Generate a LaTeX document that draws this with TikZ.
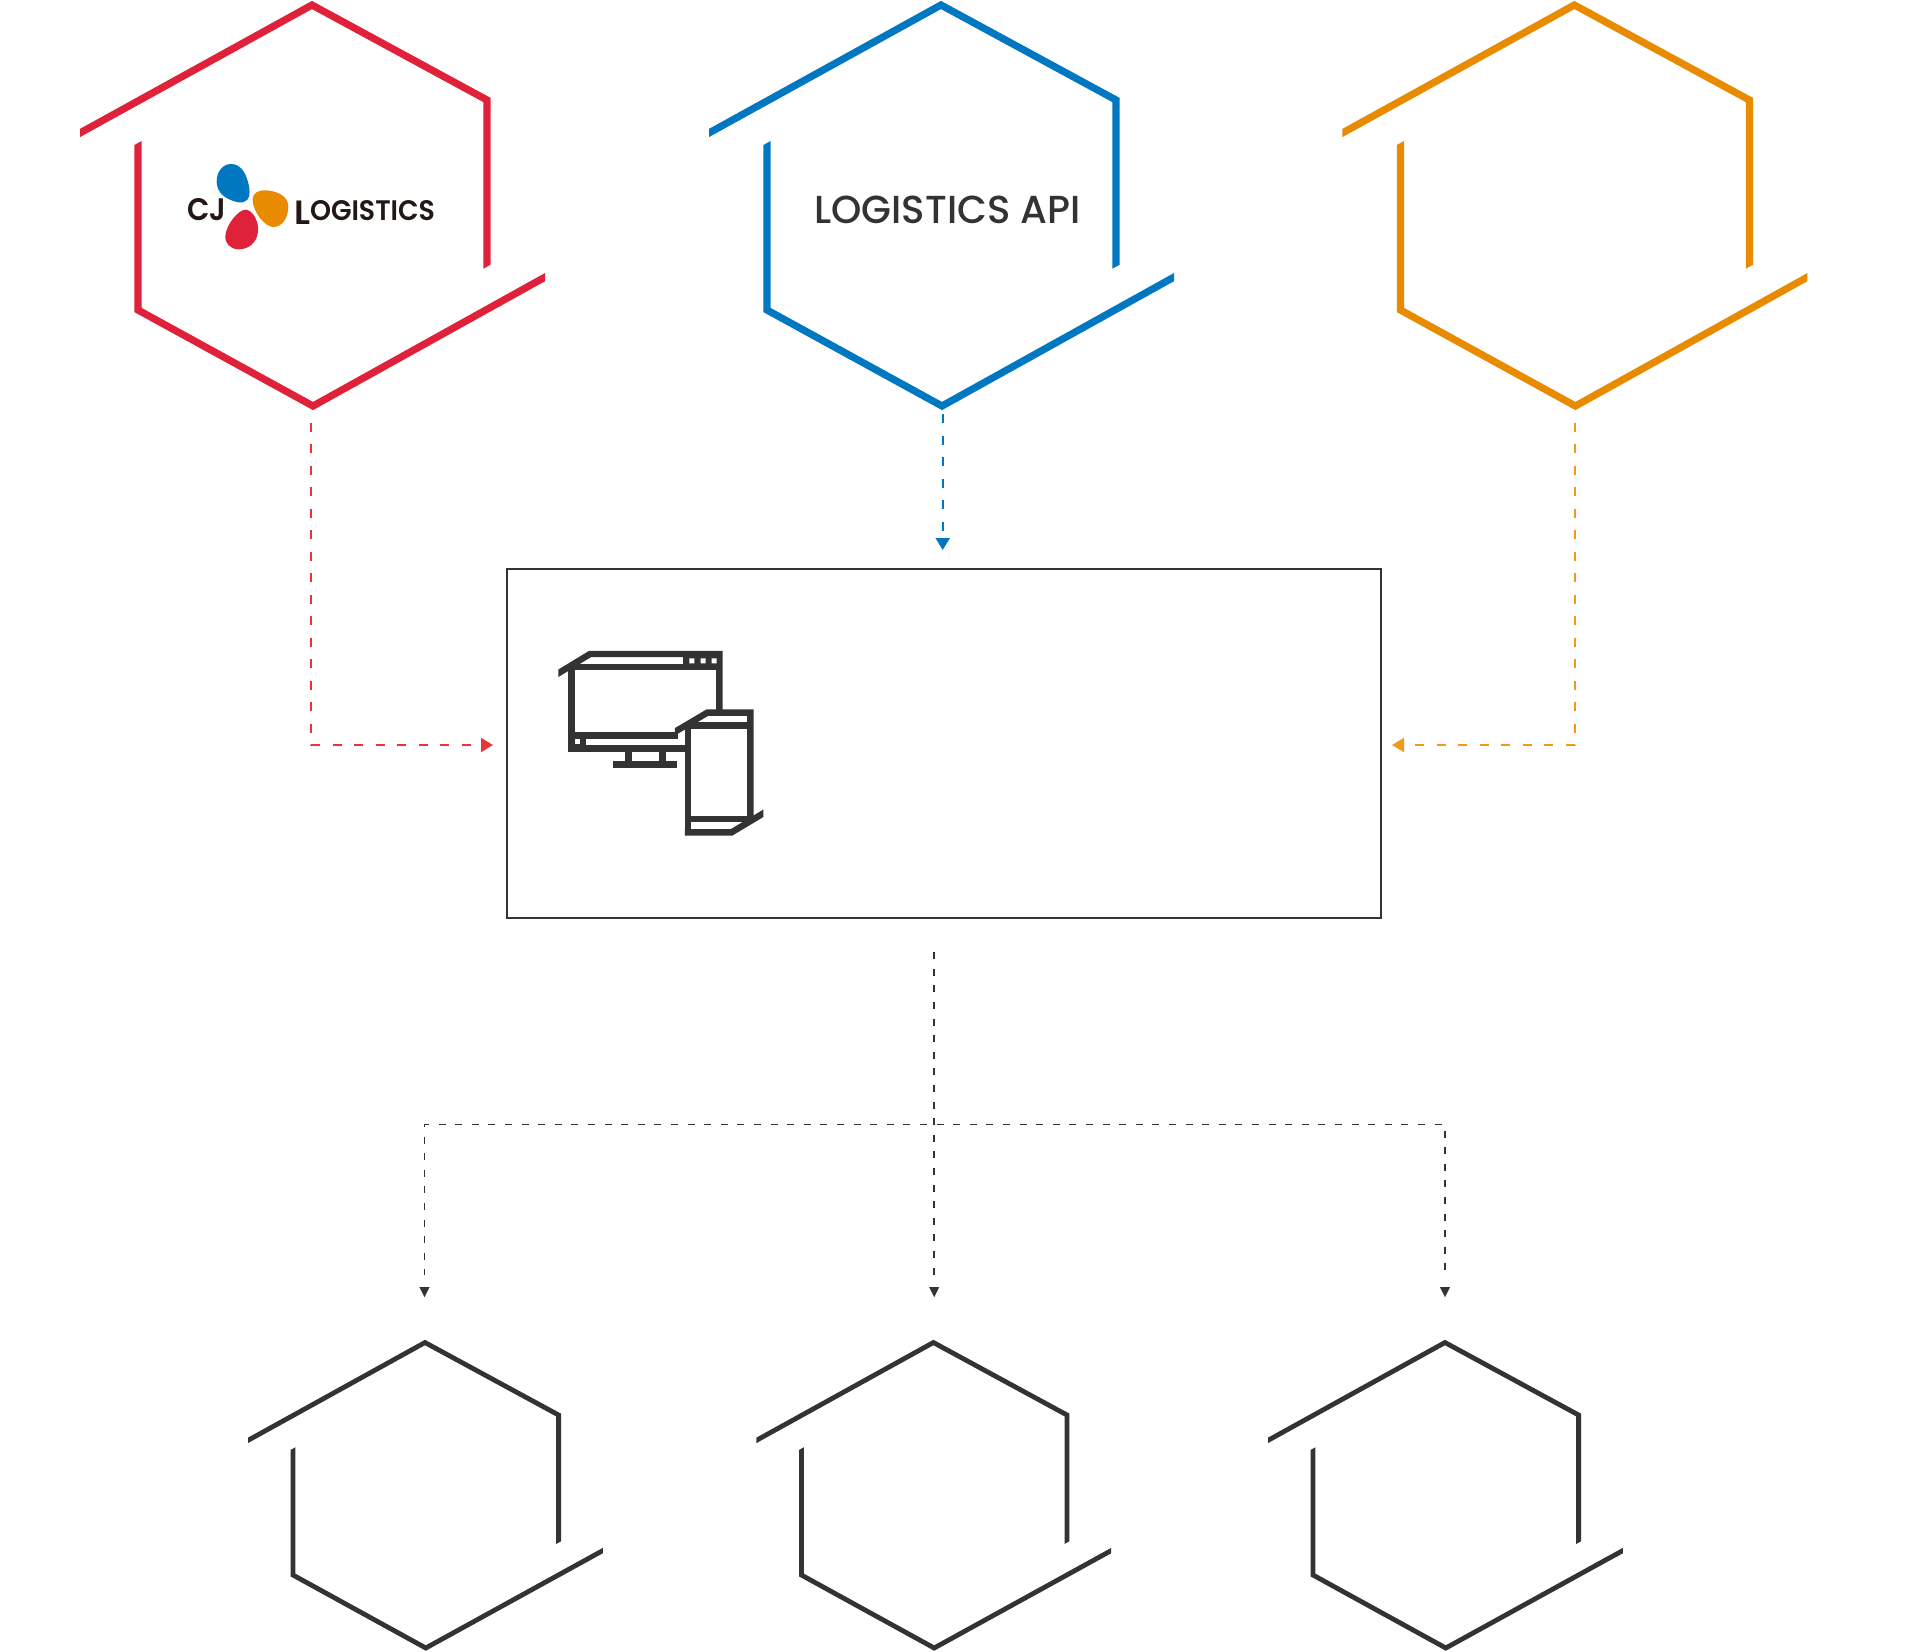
\documentclass[tikz,border=0pt]{standalone}
\usepackage{fontspec}
\usepackage{graphicx}
\usetikzlibrary{arrows.meta}
\setmainfont{Poppins}
\newfontfamily\popmed{Poppins Medium}
\newfontfamily\popsemi{Poppins SemiBold}
\definecolor{hexred}{HTML}{E0213A}
\definecolor{hexblue}{HTML}{0078C1}
\definecolor{hexorange}{HTML}{E98B00}
\definecolor{dark}{HTML}{333333}
\definecolor{linered}{HTML}{E93535}
\definecolor{lineorange}{HTML}{F09A1A}
\definecolor{logoink}{HTML}{231815}
\tikzset{
  hexline/.style={line width=7.2pt,miter limit=10,line join=miter},
  hexthin/.style={line width=4.8pt,miter limit=10,line join=miter},
  flow/.style={line width=2pt,dash pattern=on 9pt off 12.5pt,-{Triangle[length=12pt,width=14pt]}},
  flowthin/.style={line width=1.9pt,dash pattern=on 7pt off 9.6pt,draw=dark},
  flowtip/.style={line width=.1pt,draw=dark,-{Triangle[length=10pt,width=10pt]}},
  icon/.style={line width=6.4pt,draw=dark},
  lbl/.style={anchor=base west,inner sep=0pt,outer sep=0pt}
}
\newcommand\tophex[2]{%
\begin{scope}[xshift=#2pt]
 \begin{scope}
  \clip (80,-50)--(700,-50)--(700,266.7-213*.55)--(80,266.7+407*.55)--cycle;
  \draw[hexline,draw=#1] (60,144)--(312,5)--(487,100)--(487,300);
 \end{scope}
 \begin{scope}
  \clip (545,-80.8)--(545,500)--(0,500)--(0,143+138*.55)--cycle;
  \draw[hexline,draw=#1] (138,100)--(138,310)--(313,406)--(565,266);
 \end{scope}
\end{scope}}
\newcommand\bothex[1]{%
\begin{scope}[xshift=#1pt]
 \begin{scope}
  \clip (248,1300)--(800,1300)--(800,1542.6-241.4*.55)--(248,1542.6+310.6*.55)--cycle;
  \draw[hexthin,draw=dark] (228,1451.4)--(425,1342.5)--(558.6,1415)--(558.6,1570);
 \end{scope}
 \begin{scope}
  \clip (602.8,1278.2)--(602.8,1700)--(100,1700)--(100,1448.6+193*.55)--cycle;
  \draw[hexthin,draw=dark] (293,1420)--(293,1575)--(425.8,1648)--(622,1540);
 \end{scope}
\end{scope}}
\begin{document}
\begin{tikzpicture}[x=1pt,y=-1pt]
\useasboundingbox (0,0) rectangle (1920,1652);
\fill[white] (0,0) rectangle (1920,1652);
% hexagons
\tophex{hexred}{0}
\tophex{hexblue}{629}
\tophex{hexorange}{1262.4}
\bothex{0}
\bothex{508.4}
\bothex{1020}
% logo
\begin{scope}[shift={(170,150)},x=.3333pt,y=-.3333pt]
 \fill[hexblue] (183,42) .. controls (215,42) and (232,75) .. (238,115) .. controls (242,148) and (228,160) .. (205,157) .. controls (170,150) and (140,130) .. (140,95) .. controls (140,65) and (158,42) .. (183,42) -- cycle;
 \fill[hexorange] (248,150) .. controls (248,128) and (265,120) .. (290,121) .. controls (325,124) and (355,140) .. (355,170) .. controls (355,205) and (335,231) .. (310,231) .. controls (285,231) and (248,185) .. (248,150) -- cycle;
 \fill[hexred] (228,179) .. controls (250,182) and (267,215) .. (264,245) .. controls (261,278) and (235,299) .. (205,298) .. controls (180,297) and (165,280) .. (166,258) .. controls (168,225) and (205,178) .. (228,179) -- cycle;
\end{scope}
\node[lbl,text=logoink,font=\popsemi\fontsize{24}{24}\selectfont] (logoCJ) at (187.5,220) {\resizebox{39pt}{22pt}{CJ}};
\node[lbl,text=logoink,font=\popsemi\fontsize{32}{32}\selectfont] (logoL) at (294.5,224) {\resizebox{16pt}{23.5pt}{L}};
\node[lbl,text=logoink,font=\popsemi\fontsize{24}{24}\selectfont] (logoOG) at (310,220.5) {\resizebox{125pt}{20pt}{OGISTICS}};
\node[lbl,text=dark,font=\popmed\fontsize{38}{38}\selectfont] (apiText) at (814.5,223.3) {\resizebox{266pt}{27.5pt}{LOGISTICS API}};
% central box
\node[draw=dark,line width=2pt,fill=white,minimum width=874pt,minimum height=349pt,inner sep=0pt,anchor=north west] (core) at (506,567.5) {};
% icon
\begin{scope}[shift={(545,640)},x=.3333pt,y=-.3333pt]
 \begin{scope}
  \clip (40,0) rectangle (700,600);
  \draw[icon,line join=miter] (20,112)--(135,42)--(523,42)--(523,215);
  \draw[icon] (80,81)--(523,81);
  \draw[icon] (80,78)--(80,326)--(420,326);
  \draw[icon] (80,287)--(400,287);
 \end{scope}
 \fill[dark] (415,45) rectangle (520,78);
 \fill[white] (433,55) rectangle (448,70) (467,55) rectangle (482,70) (500,55) rectangle (515,70);
 \fill[dark] (85,290) rectangle (122,322);
 \fill[white] (90,298) rectangle (105,312);
 \draw[icon] (251,326)--(251,374);
 \draw[icon] (352,326)--(352,374);
 \draw[icon] (205,374)--(397,374);
 \begin{scope}
  \clip (390,200) rectangle (655,600);
  \draw[icon,line join=miter] (370,287)--(487,218)--(616,218)--(616,537);
  \draw[icon] (429,257)--(429,586);
  \draw[icon] (420,257)--(616,257);
  \draw[icon] (429,537)--(616,537);
  \draw[icon,line join=miter] (420,577)--(560,577)--(675,508);
 \end{scope}
\end{scope}
% connectors
\coordinate (hr) at (311,422.5);
\coordinate (hb) at (942.7,414);
\coordinate (ho) at (1574.7,422.5);
\coordinate (tr) at (493,745);
\coordinate (tb) at (942.7,550);
\coordinate (to) at (1392,745);
\coordinate (md) at (934.2,952.2);
\coordinate (mdend) at (934.2,1275);
\coordinate (mtb) at (934.2,1286.5);
\coordinate (mt) at (934.2,1297);
\coordinate (ml) at (927,1124.5);
\coordinate (mr) at (936.5,1124.5);
\coordinate (bl) at (424.5,1124.5);
\coordinate (bld) at (424.5,1275);
\coordinate (blb) at (424.5,1286.5);
\coordinate (blt) at (424.5,1297);
\coordinate (br) at (1445,1124.5);
\coordinate (brd) at (1445,1275);
\coordinate (brb) at (1445,1286.5);
\coordinate (brt) at (1445,1297);
\draw[flow,draw=linered] (hr) |- (tr);
\draw[flow,draw=hexblue] (hb) -- (tb);
\draw[flow,draw=lineorange] (ho) |- (to);
\draw[flowthin] (md) -- (mdend);
\draw[flowthin] (ml) -- (bl) -- (bld);
\draw[flowthin] (mr) -- (br) -- (brd);
\draw[flowtip] (mtb) -- (mt);
\draw[flowtip] (blb) -- (blt);
\draw[flowtip] (brb) -- (brt);
\end{tikzpicture}
\end{document}
